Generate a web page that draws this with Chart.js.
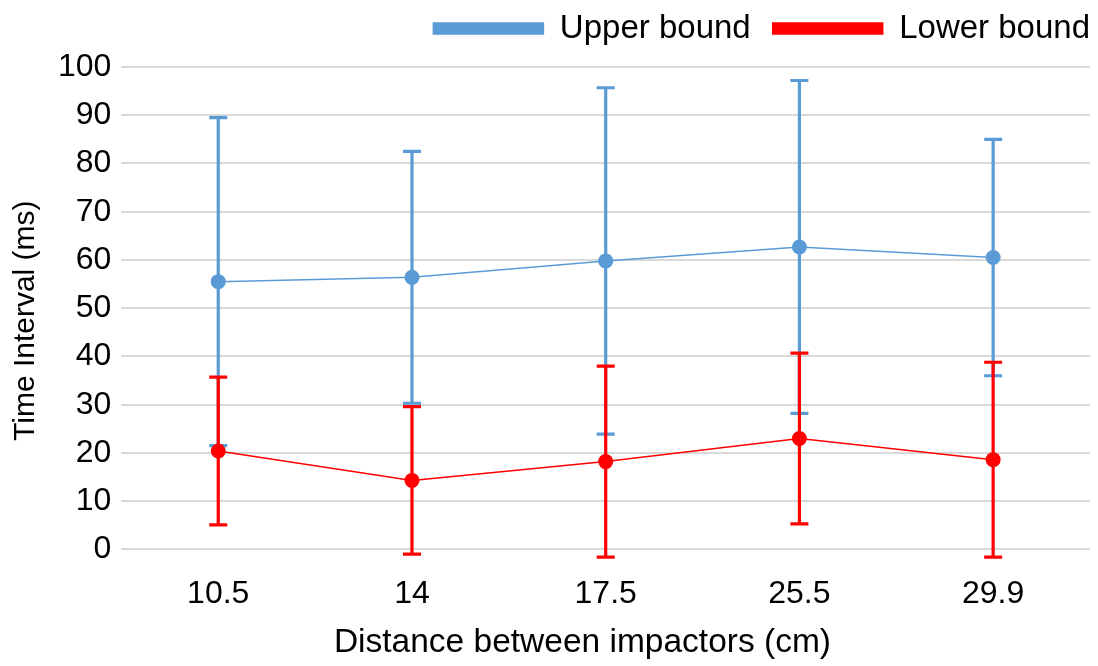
<html>
<head>
  <style>
    html, body { margin: 0; padding: 0; background: #fff; }
    #wrap { width: 1098px; height: 666px; }
  </style>
  <script src="https://cdn.jsdelivr.net/npm/chart.js@4/dist/chart.umd.min.js"></script>
</head>
<body>
<div id="wrap"><canvas id="canvasDiv"></canvas></div>
<script type="text/javascript">

// distances between impactors (cm)
var distances = ["10.5", "14", "17.5", "25.5", "29.9"];

// upper bound: mean and error (+/-)
var upperMean = [55.5, 56.4, 59.8, 62.7, 60.5];
var upperErr  = [34.0, 26.1, 35.9, 34.5, 24.5];

// lower bound: mean and error (+/-)
var lowerMean = [20.4, 14.3, 18.2, 23.0, 18.6];
var lowerErr  = [15.3, 15.3, 19.8, 17.7, 20.2];

var blue = "#5B9BD5";
var red = "#FF0000";
var font = "'Liberation Sans', Arial, sans-serif";

// draws the +/- bars for a dataset just before the dataset itself
var errorBars = {
  id: 'errorBars',
  beforeDatasetDraw: function (chart, args) {
    var ds = chart.data.datasets[args.index];
    if (!ds.errors) return;
    var ctx = chart.ctx;
    var y = chart.scales.y;
    var pts = args.meta.data;
    ctx.save();
    ctx.strokeStyle = ds.borderColor;
    ctx.lineWidth = 3.2;
    for (var j = 0; j < pts.length; j++) {
      var x = pts[j].x;
      var hi = y.getPixelForValue(ds.data[j] + ds.errors[j]);
      var lo = y.getPixelForValue(ds.data[j] - ds.errors[j]);
      ctx.beginPath();
      ctx.moveTo(x, hi); ctx.lineTo(x, lo);
      ctx.moveTo(x - 9, hi); ctx.lineTo(x + 9, hi);
      ctx.moveTo(x - 9, lo); ctx.lineTo(x + 9, lo);
      ctx.stroke();
    }
    ctx.restore();
  }
};

// a bit more room under the legend, and push it to the right edge
var legendGap = {
  id: 'legendGap',
  beforeInit: function (chart) {
    var fit = chart.legend.fit;
    chart.legend.fit = function () {
      fit.bind(chart.legend)();
      this.height += 12;
    };
  },
  afterLayout: function (chart) {
    chart.legend.left += 22;
    chart.legend.right += 22;
  }
};

var ctx = document.getElementById("canvasDiv");
var chart = new Chart(ctx, {
  type: 'line',
  data: {
    labels: distances,
    datasets: [
      {
        label: "Upper bound",
        data: upperMean,
        errors: upperErr,
        borderColor: blue,
        backgroundColor: blue,
        borderWidth: 1.5,
        pointRadius: 7.5,
        pointBorderWidth: 0,
        fill: false,
        order: 2
      },
      {
        label: "Lower bound",
        data: lowerMean,
        errors: lowerErr,
        borderColor: red,
        backgroundColor: red,
        borderWidth: 1.5,
        pointRadius: 7.5,
        pointBorderWidth: 0,
        fill: false,
        order: 1
      }
    ]
  },
  options: {
    responsive: true,
    maintainAspectRatio: false,
    animation: false,
    layout: { padding: { left: 8, right: 8, top: -10, bottom: 3 } },
    plugins: {
      tooltip: { enabled: false },
      legend: {
        position: 'top',
        align: 'end',
        labels: {
          boxWidth: 110,
          boxHeight: 11,
          padding: 22,
          color: '#000',
          font: { family: font, size: 33 },
          sort: function (a, b) { return a.datasetIndex - b.datasetIndex; }
        }
      }
    },
    scales: {
      x: {
        offset: true,
        grid: { display: false, drawTicks: false },
        border: { display: false },
        ticks: { color: '#000', padding: 26, font: { family: font, size: 32 } },
        title: {
          display: true,
          text: 'Distance between impactors (cm)     ',
          color: '#000',
          padding: { top: -17, bottom: 0 },
          font: { family: font, size: 33.5 }
        }
      },
      y: {
        min: 0,
        max: 100,
        ticks: { stepSize: 10, color: '#000', padding: 10, font: { family: font, size: 32 } },
        grid: { color: '#d9d9d9', lineWidth: 2, drawTicks: false },
        border: { display: false },
        title: {
          display: true,
          text: 'Time Interval (ms)   ',
          color: '#000',
          padding: { top: 0, bottom: 4 },
          font: { family: font, size: 30 }
        }
      }
    }
  },
  plugins: [errorBars, legendGap]
});

</script>
</body>
</html>
